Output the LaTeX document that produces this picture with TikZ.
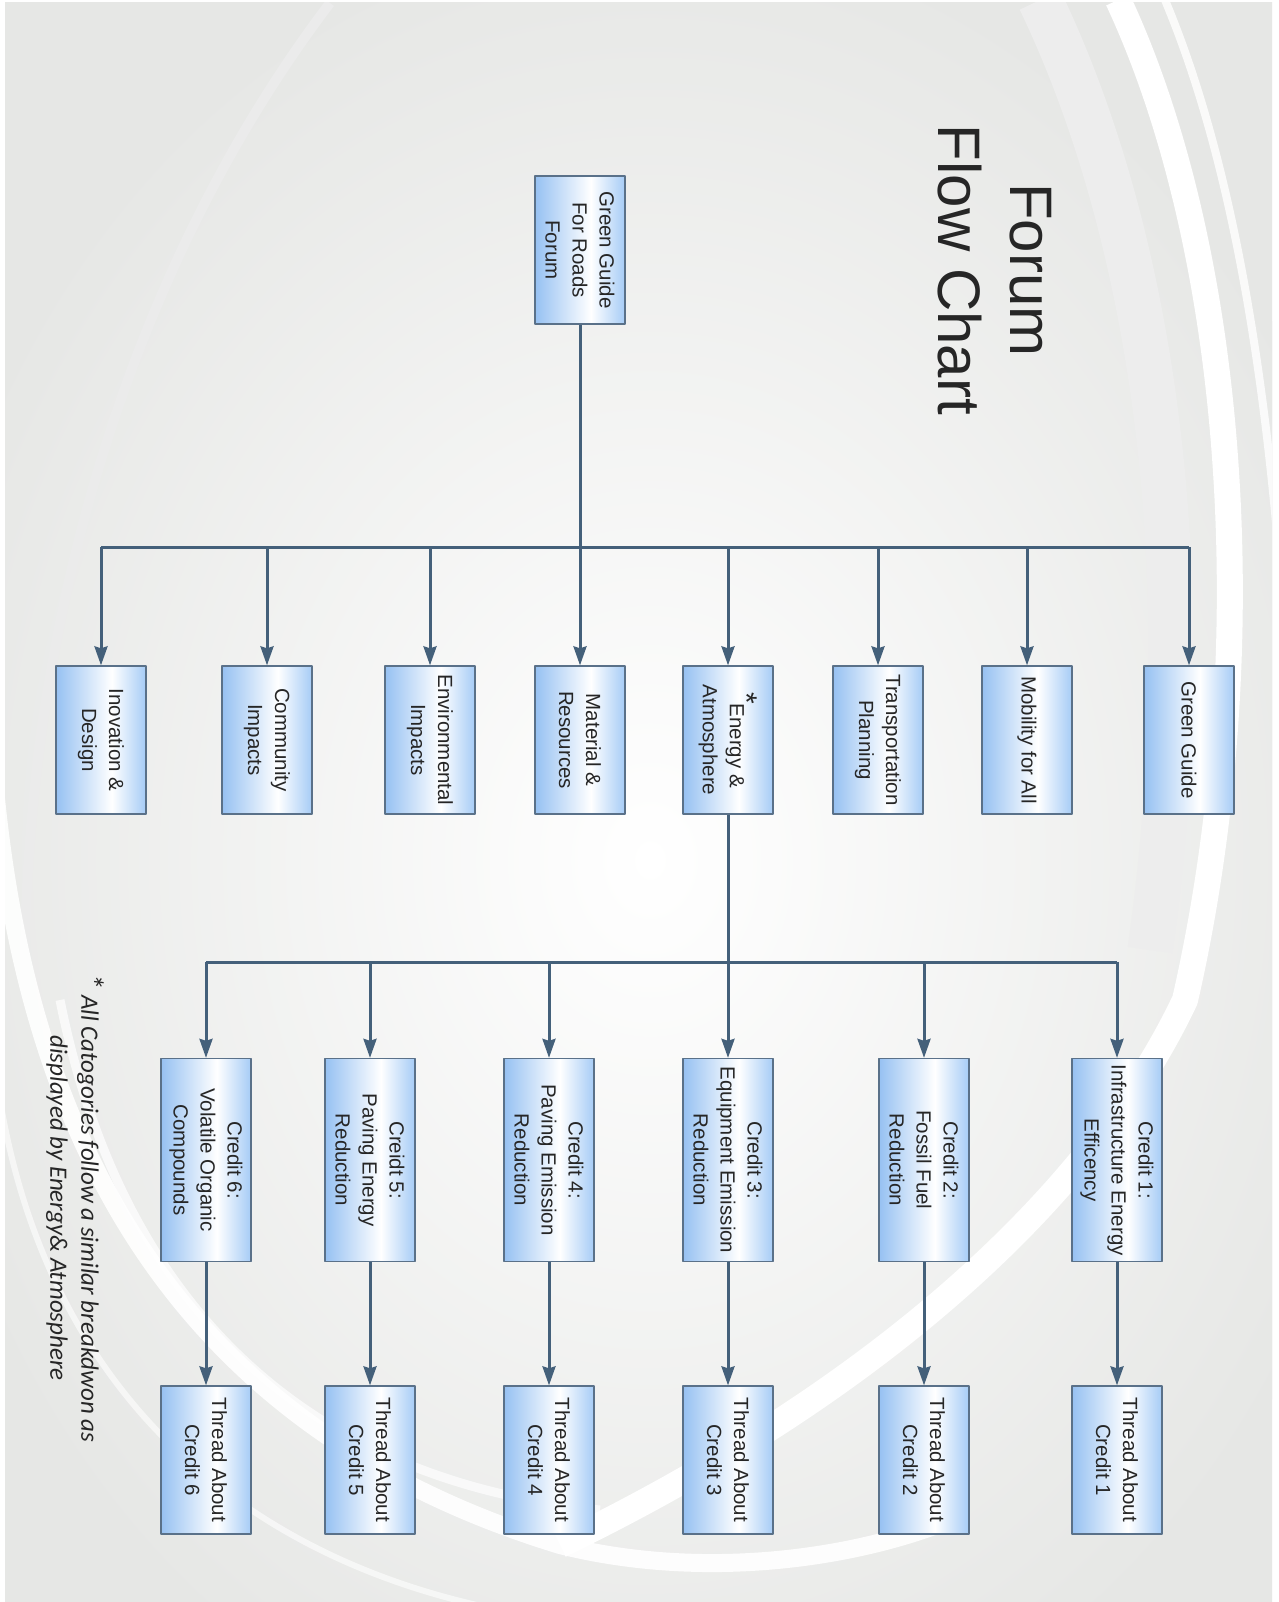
\documentclass[tikz,border=0pt]{standalone}
\usepackage{fontspec}
\setmainfont{Liberation Sans}
\newfontfamily\notefont{Carlito}
\usetikzlibrary{arrows.meta}
\definecolor{linkblue}{HTML}{44607A}
\definecolor{boxedge}{HTML}{5A7189}
\definecolor{boxblueL}{HTML}{96C1F2}
\definecolor{boxblueR}{HTML}{A6CCF6}
\definecolor{bggray}{HTML}{E6E7E5}
\definecolor{txtgray}{HTML}{262626}
\pgfdeclarehorizontalshading{boxshade}{100bp}{color(0bp)=(boxblueL); color(25bp)=(boxblueL); color(56bp)=(white); color(75bp)=(boxblueR); color(100bp)=(boxblueR)}

\begin{document}
\begin{tikzpicture}[x=1pt,y=-1pt,>={Stealth[length=19pt,width=13pt,inset=2pt]},
	font=\fontsize{20.5}{27}\selectfont, line join=round,
	box/.style={rotate=-90, draw=boxedge, line width=1.3pt, shade, shading=boxshade,
		minimum width=148, minimum height=90, align=center, text=txtgray, inner sep=2pt},
	creditbox/.style={box, minimum width=203},
	link/.style={draw=linkblue, line width=3pt}]
	% --- Background ---
	\useasboundingbox (0,0) rectangle (1278,1602);
	\fill[white] (0,0) rectangle (1278,1602);
	\begin{scope}
		\clip (5,3) rectangle (1272,1602);
		\fill[bggray] (0,0) rectangle (1278,1602);
		\shade[inner color=white, outer color=bggray] (650,860) ellipse [x radius=760, y radius=940];
		\draw[black!8, line width=10] (330,3) .. controls (120,280) and (20,650) .. (25,1000);
		\draw[black!7, line width=45] (1040,0) .. controls (1160,250) and (1200,600) .. (1150,950);
		\draw[white, line width=26] (1118,0) .. controls (1235,250) and (1265,650) .. (1185,1000)
			.. controls (1100,1180) and (900,1380) .. (560,1545);
		\draw[white, line width=8, opacity=.8] (1165,0) .. controls (1270,250) and (1300,650) .. (1295,1100);
		\draw[white, line width=18, opacity=.9] (-10,720) .. controls (10,1100) and (150,1420) .. (560,1545)
			.. controls (700,1580) and (850,1560) .. (950,1520);
		\draw[white, line width=9, opacity=.7] (60,1000) .. controls (120,1300) and (300,1480) .. (600,1510);
		\draw[white, line width=6, opacity=.6] (0,1100) .. controls (50,1400) and (250,1560) .. (500,1610);
	\end{scope}
	
	% --- Title ---
	\node[rotate=-90, font=\fontsize{60}{72}\selectfont, align=center, text=txtgray] (title) at (995,270) {Forum\\Flow Chart};
	
	% --- Boxes ---
	\node[box] (root) at (580,250) {Green Guide\\For Roads\\Forum};
	\foreach \nm/\xx/\txt in {inov/101/{Inovation \&\\Design}, comm/267/{Community\\Impacts},
		env/430/{Environmental\\Impacts}, mat/580/{Material \&\\Resources},
		energy/728/{\raisebox{7pt}{\fontsize{30}{30}\selectfont *}Energy \&\\Atmosphere}, trans/878/{Transportation\\Planning},
		mob/1027/{Mobility for All}, green/1189/{Green Guide}}
		\node[box] (\nm) at (\xx,740) {\txt};
	\foreach \i/\xx/\txt in {6/206/{Credit 6:\\Volatile Organic\\Compounds}, 5/370/{Creidt 5:\\Paving Energy\\Reduction},
		4/549/{Credit 4:\\Paving Emission\\Reduction}, 3/728/{Credit 3:\\Equipment Emission\\Reduction},
		2/924/{Credit 2:\\Fossil Fuel\\Reduction}, 1/1117/{Credit 1:\\Infrastructure Energy\\Efficency}}
	{
		\node[creditbox] (c\i) at (\xx,1160) {\txt};
		\node[box] (t\i) at (\xx,1460) {Thread About\\Credit \i};
	}
	
	% --- Connectors ---
	\coordinate (busA) at (580,547);
	\draw[link] (root.east) -- (busA);
	\draw[link] (busA -| inov.west) -- (busA -| green.west);
	\foreach \nm in {inov,comm,env,mat,energy,trans,mob,green}
		\draw[link,->] (busA -| \nm.west) -- (\nm.west);
	
	\coordinate (busB) at (728,962);
	\draw[link] (energy.east) -- (busB);
	\draw[link] (busB -| c6.west) -- (busB -| c1.west);
	\foreach \i in {1,...,6}{
		\draw[link,->] (busB -| c\i.west) -- (c\i.west);
		\draw[link,->] (c\i.east) -- (t\i.west);
	}
	
	% --- Note ---
	\node[rotate=-90, font=\notefont\itshape\fontsize{25}{31}\selectfont, align=center, text=txtgray] (note) at (75,1208)
		{{\fontsize{32}{32}\selectfont*} All Catogories follow a similar breakdwon as\\displayed by Energy\& Atmosphere};
\end{tikzpicture}
\end{document}
